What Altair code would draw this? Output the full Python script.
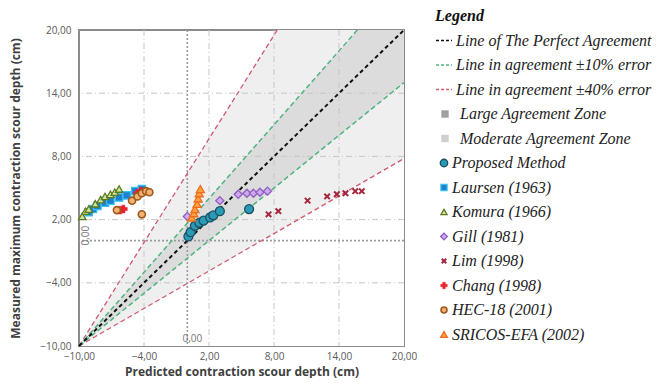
import altair as alt
import pandas as pd

# ---------------- data ----------------
ticks = [-10, -4, 2, 8, 14, 20]
grid_vals = [-4, 2, 8, 14]
zero_vals = [0]

# reference lines (end points)
perfect_x = [-10, 20]
perfect_y = [-10, 20]
green_up_x = [-10, 15.7]
green_up_y = [-10, 20]
green_lo_x = [-10, 20]
green_lo_y = [-10, 15.0]
red_up_x = [-10, 8.3]
red_up_y = [-10, 20]
red_lo_x = [-10, 20]
red_lo_y = [-10, 7.8]
corner_x = [20]
corner_y = [20]

# series
proposed_x = [0.1, 0.3, 0.7, 1.1, 1.5, 2.1, 2.4, 3.0, 5.7]
proposed_y = [0.4, 0.8, 1.4, 1.7, 1.9, 2.2, 2.4, 2.8, 3.0]
laursen_x = [-9.1, -8.7, -8.3, -7.6, -7.1, -6.3, -5.6, -4.8, -4.2]
laursen_y = [2.7, 3.0, 3.3, 3.6, 3.8, 4.1, 4.3, 4.7, 4.9]
komura_x = [-9.7, -9.4, -9.1, -8.5, -8.0, -7.6, -7.1, -6.7, -6.3]
komura_y = [2.3, 2.8, 3.0, 3.5, 3.9, 4.2, 4.4, 4.6, 4.9]
gill_x = [0.0, 3.0, 4.7, 5.5, 6.1, 6.7, 7.4]
gill_y = [2.3, 3.8, 4.4, 4.5, 4.5, 4.6, 4.7]
lim_x = [7.5, 8.4, 11.1, 12.9, 13.8, 14.6, 15.5, 16.1]
lim_y = [2.5, 2.8, 3.8, 4.2, 4.4, 4.5, 4.7, 4.7]
chang_x = [-6.2, -5.9, -4.6, -4.3]
chang_y = [2.9, 3.0, 4.5, 4.7]
hec_x = [-6.5, -5.1, -4.6, -4.2, -3.8, -3.5, -4.2]
hec_y = [2.9, 3.8, 4.2, 4.5, 4.7, 4.6, 2.5]
sricos_x = [0.4, 0.6, 0.7, 0.9, 1.0, 1.1, 1.2]
sricos_y = [2.2, 2.6, 3.0, 3.5, 4.0, 4.5, 4.9]

legend_title = "Legend"
line_labels = ["Line of The Perfect Agreement",
               "Line in agreement \u00b110% error",
               "Line in agreement \u00b140% error"]
zone_labels = ["Large Agreement Zone", "Moderate Agreement Zone"]
series_names = ["Proposed Method", "Laursen (1963)", "Komura (1966)", "Gill (1981)",
                "Lim (1998)", "Chang (1998)", "HEC-18 (2001)", "SRICOS-EFA (2002)"]
zero_label = "0,00"

# ---------------- styles ----------------
X_PATH = "M-1,-1L1,1M-1,1L1,-1"
series_style = [
    dict(x=proposed_x, y=proposed_y, shape="circle", fill="#2a9bb5", stroke="#1b4f63", sw=1.3, size=80),
    dict(x=laursen_x, y=laursen_y, shape="square", fill="#1f7fd1", stroke="#35c2ef", sw=1.2, size=55),
    dict(x=komura_x, y=komura_y, shape="triangle-up", fill="#cde7a4", stroke="#5d7a1e", sw=1.3, size=55),
    dict(x=gill_x, y=gill_y, shape="diamond", fill="#cfa8ee", stroke="#8d5fc2", sw=1.3, size=65),
    dict(x=lim_x, y=lim_y, shape=X_PATH, fill="#a3283e", stroke="#a3283e", sw=2.0, size=30),
    dict(x=chang_x, y=chang_y, shape="cross", fill="#e8232b", stroke="#e8232b", sw=0.5, size=60),
    dict(x=hec_x, y=hec_y, shape="circle", fill="#f4b071", stroke="#9c5a1e", sw=1.6, size=50),
    dict(x=sricos_x, y=sricos_y, shape="triangle-up", fill="#f9a43f", stroke="#f26b1d", sw=1.3, size=65),
]

FONT = "Open Sans"
label_expr = "replace(format(datum.value, '.2f'), '.', ',')"
xs = alt.Scale(domain=[-10, 20], nice=False, zero=False)
ys = alt.Scale(domain=[-10, 20], nice=False, zero=False)
xaxis = alt.Axis(values=ticks, labelExpr=label_expr, grid=False, ticks=False, domain=False,
                 labelFont=FONT, labelFontSize=10, labelColor="#595959", labelPadding=5,
                 labelFlush=False, labelOverlap=False,
                 titleFont=FONT, titleFontSize=12, titleFontWeight="bold", titleColor="#3f3f3f",
                 titlePadding=5)
yaxis = alt.Axis(values=ticks, labelExpr=label_expr, grid=False, ticks=False, domain=False,
                 labelFont=FONT, labelFontSize=10, labelColor="#595959", labelPadding=8,
                 labelFlush=False, labelOverlap=False,
                 titleFont=FONT, titleFontSize=12, titleFontWeight="bold", titleColor="#3f3f3f",
                 titlePadding=17)
XT = "Predicted contraction scour depth (cm)"
YT = "Measured maximum contraction scour depth (cm)"


def X(f="x"):
    return alt.X(f"{f}:Q", scale=xs, axis=xaxis, title=XT)


def Y(f="y"):
    return alt.Y(f"{f}:Q", scale=ys, axis=yaxis, title=YT)


def df(xv, yv):
    return pd.DataFrame({"x": xv, "y": yv})


def area(xv, yv, color):
    return alt.Chart(df(xv, yv)).mark_area(color=color, opacity=1).encode(
        x=X(), y=Y(), y2=alt.datum(-10))


layers = [
    area(red_up_x + corner_x, red_up_y + corner_y, "#efefef"),
    area(green_up_x + corner_x, green_up_y + corner_y, "#dcdcdc"),
    area(green_lo_x, green_lo_y, "#efefef"),
    area(red_lo_x, red_lo_y, "#ffffff"),
]

gdf = pd.DataFrame({"g": grid_vals})
layers.append(alt.Chart(gdf).mark_rule(color="#c6c6c6", strokeWidth=1, strokeDash=[6, 3, 1, 3]).encode(x=X("g")))
layers.append(alt.Chart(gdf).mark_rule(color="#c6c6c6", strokeWidth=1, strokeDash=[6, 3, 1, 3]).encode(y=Y("g")))
zdf = pd.DataFrame({"g": zero_vals})
layers.append(alt.Chart(zdf).mark_rule(color="#9b9b9b", strokeWidth=1.6, strokeDash=[2, 2]).encode(x=X("g")))
layers.append(alt.Chart(zdf).mark_rule(color="#9b9b9b", strokeWidth=1.6, strokeDash=[2, 2]).encode(y=Y("g")))


def line(xv, yv, color, width, dash):
    return alt.Chart(df(xv, yv)).mark_line(color=color, strokeWidth=width, strokeDash=dash).encode(
        x=X(), y=Y())


layers += [
    line(red_up_x, red_up_y, "#cf5a72", 1.3, [5, 3]),
    line(red_lo_x, red_lo_y, "#cf5a72", 1.3, [5, 3]),
    line(green_up_x, green_up_y, "#4fb37f", 1.5, [5, 3]),
    line(green_lo_x, green_lo_y, "#4fb37f", 1.5, [5, 3]),
    line(perfect_x, perfect_y, "#111111", 2.0, [4, 3]),
]

for s in series_style:
    layers.append(alt.Chart(df(s["x"], s["y"])).mark_point(
        shape=s["shape"], filled=True, fill=s["fill"], stroke=s["stroke"], strokeWidth=s["sw"],
        size=s["size"], opacity=1).encode(x=X(), y=Y()))

# "0,00" annotations
layers.append(alt.Chart(pd.DataFrame({"t": [zero_label]})).mark_text(
    font=FONT, fontSize=10, color="#777777", align="center", baseline="middle", dx=5, dy=-7).encode(
    x=alt.datum(0), y=alt.datum(-10), text="t:N"))
layers.append(alt.Chart(pd.DataFrame({"t": [zero_label]})).mark_text(
    font=FONT, fontSize=10, color="#777777", align="center", baseline="middle", angle=270, dx=5, dy=7).encode(
    x=alt.datum(-10), y=alt.datum(0), text="t:N"))

main = alt.layer(*layers).properties(
    width=325, height=316,
    view=alt.ViewBackground(stroke="#8c8c8c", strokeWidth=2))

# ---------------- legend panel ----------------
LH = 316
ly = alt.Scale(domain=[0.5714, 13.469], reverse=True, nice=False, zero=False)
SERIF = "Liberation Serif"


def LY():
    return alt.Y("row:Q", scale=ly, axis=None)


leg = []
leg.append(alt.Chart(pd.DataFrame({"row": [0], "t": [legend_title]})).mark_text(
    font=SERIF, fontSize=16, fontStyle="italic", fontWeight="bold", align="left", baseline="middle",
    color="#111111").encode(x=alt.value(3), y=LY(), text="t:N"))

line_colors = ["#111111", "#4fb37f", "#cf5a72"]
for i, (lab, c) in enumerate(zip(line_labels, line_colors)):
    r = i + 1
    leg.append(alt.Chart(pd.DataFrame({"row": [r]})).mark_rule(
        color=c, strokeWidth=1.6, strokeDash=[3, 2]).encode(
        x=alt.value(4), x2=alt.value(20), y=LY()))
    leg.append(alt.Chart(pd.DataFrame({"row": [r], "t": [lab]})).mark_text(
        font=SERIF, fontSize=16, fontStyle="italic", align="left", baseline="middle",
        color="#222222").encode(x=alt.value(24), y=LY(), text="t:N"))

zone_colors = ["#a0a0a0", "#cfcfcf"]
for i, (lab, c) in enumerate(zip(zone_labels, zone_colors)):
    r = i + 4
    leg.append(alt.Chart(pd.DataFrame({"row": [r]})).mark_square(
        color=c, size=55, opacity=1).encode(x=alt.value(13), y=LY()))
    leg.append(alt.Chart(pd.DataFrame({"row": [r], "t": [lab]})).mark_text(
        font=SERIF, fontSize=16, fontStyle="italic", align="left", baseline="middle",
        color="#222222").encode(x=alt.value(28), y=LY(), text="t:N"))

for i, (lab, s) in enumerate(zip(series_names, series_style)):
    r = i + 6
    leg.append(alt.Chart(pd.DataFrame({"row": [r]})).mark_point(
        shape=s["shape"], filled=True, fill=s["fill"], stroke=s["stroke"], strokeWidth=s["sw"],
        size=s["size"] * 0.7, opacity=1).encode(x=alt.value(12), y=LY()))
    leg.append(alt.Chart(pd.DataFrame({"row": [r], "t": [lab]})).mark_text(
        font=SERIF, fontSize=16, fontStyle="italic", align="left", baseline="middle",
        color="#222222").encode(x=alt.value(20), y=LY(), text="t:N"))

legend = alt.layer(*leg).properties(
    width=215, height=LH, view=alt.ViewBackground(strokeOpacity=0))

chart = alt.hconcat(main, legend, spacing=28, bounds="flush").configure(
    background="white", padding=0)

chart.save("out.html", embed_options={"renderer": "svg", "actions": False})
